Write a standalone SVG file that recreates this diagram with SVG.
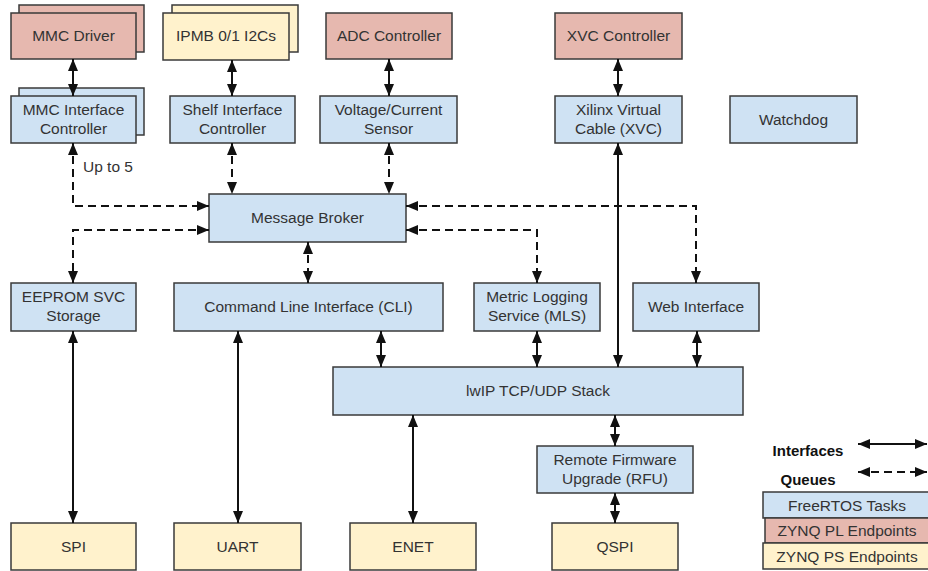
<svg xmlns="http://www.w3.org/2000/svg" width="928" height="571" viewBox="0 0 928 571">
<defs>
<style>
.n rect{stroke:#3a3a3a;stroke-width:1.5}
.b{fill:#cfe2f3}.r{fill:#e6b8af}.y{fill:#fff2cc}
text{font-family:"Liberation Sans",Arial,sans-serif;font-size:15.5px;fill:#333;text-anchor:middle}
.lg{font-weight:bold;fill:#111;font-size:15px}
.c path,.c line{fill:none;stroke:#111;stroke-width:2;marker-start:url(#a);marker-end:url(#a)}
.c .d{stroke-dasharray:8,5}
</style>
<marker id="a" viewBox="0 0 12 10" refX="12" refY="5" markerWidth="12" markerHeight="10" markerUnits="userSpaceOnUse" orient="auto-start-reverse"><path d="M0,0 L12,5 L0,10 z" fill="#111"/></marker>
</defs>
<rect width="928" height="571" fill="#fff"/>

<g class="n">
<g id="mmc-driver"><rect class="r" x="19" y="5" width="125" height="47"/><rect class="r" x="11" y="13" width="125" height="46"/><text x="73.5" y="41">MMC Driver</text></g>
<g id="ipmb"><rect class="y" x="172" y="5" width="126" height="47"/><rect class="y" x="163" y="13" width="126" height="47"/><text x="226" y="41">IPMB 0/1 I2Cs</text></g>
<g id="adc"><rect class="r" x="326" y="13" width="126" height="46"/><text x="389" y="41">ADC Controller</text></g>
<g id="xvc-ctrl"><rect class="r" x="555" y="13" width="127" height="46"/><text x="618.5" y="41">XVC Controller</text></g>

<g id="mmc-if"><rect class="b" x="19" y="88" width="125" height="47"/><rect class="b" x="11" y="96" width="125" height="47"/><text x="73.5" y="115">MMC Interface</text><text x="73.5" y="134">Controller</text></g>
<g id="shelf"><rect class="b" x="170" y="96" width="125" height="47"/><text x="232.5" y="115">Shelf Interface</text><text x="232.5" y="134">Controller</text></g>
<g id="vsense"><rect class="b" x="320" y="96" width="137" height="47"/><text x="388.5" y="115">Voltage/Current</text><text x="388.5" y="134">Sensor</text></g>
<g id="xvc"><rect class="b" x="555" y="96" width="127" height="47"/><text x="618.5" y="115">Xilinx Virtual</text><text x="618.5" y="134">Cable (XVC)</text></g>
<g id="watchdog"><rect class="b" x="730" y="96" width="127" height="47"/><text x="793.5" y="125">Watchdog</text></g>

<g id="broker"><rect class="b" x="209" y="194" width="197" height="48"/><text x="307.5" y="223">Message Broker</text></g>

<g id="eeprom"><rect class="b" x="11" y="283" width="125" height="48"/><text x="73.5" y="302">EEPROM SVC</text><text x="73.5" y="321">Storage</text></g>
<g id="cli"><rect class="b" x="174" y="283" width="269" height="48"/><text x="308.5" y="312">Command Line Interface (CLI)</text></g>
<g id="mls"><rect class="b" x="474" y="283" width="126" height="48"/><text x="537" y="302">Metric Logging</text><text x="537" y="321">Service (MLS)</text></g>
<g id="web"><rect class="b" x="633" y="283" width="126" height="48"/><text x="696" y="312">Web Interface</text></g>

<g id="lwip"><rect class="b" x="333" y="367" width="410" height="48"/><text x="538" y="396">lwIP TCP/UDP Stack</text></g>
<g id="rfu"><rect class="b" x="537" y="446" width="156" height="47"/><text x="615" y="465">Remote Firmware</text><text x="615" y="484">Upgrade (RFU)</text></g>

<g id="spi"><rect class="y" x="11" y="523" width="125" height="47"/><text x="73.5" y="552">SPI</text></g>
<g id="uart"><rect class="y" x="174" y="523" width="127" height="47"/><text x="237.5" y="552">UART</text></g>
<g id="enet"><rect class="y" x="350" y="523" width="126" height="47"/><text x="413" y="552">ENET</text></g>
<g id="qspi"><rect class="y" x="552" y="523" width="126" height="47"/><text x="615" y="552">QSPI</text></g>

<g id="legend">
<text class="lg" x="808" y="456">Interfaces</text>
<text class="lg" x="808" y="485">Queues</text>
<rect class="b" x="763" y="492" width="170" height="26"/><text x="847" y="511">FreeRTOS Tasks</text>
<rect class="r" x="765" y="518" width="170" height="25"/><text x="847" y="536">ZYNQ PL Endpoints</text>
<rect class="y" x="763" y="543" width="170" height="26"/><text x="847" y="562">ZYNQ PS Endpoints</text>
</g>
</g>

<g id="connectors" class="c">
<line x1="73" y1="59" x2="73" y2="96"/>
<line x1="232" y1="60" x2="232" y2="96"/>
<line x1="389" y1="59" x2="389" y2="96"/>
<line x1="618" y1="59" x2="618" y2="96"/>
<path class="d" d="M73,143 V206 H209"/>
<path class="d" d="M209,230 H73 V283"/>
<line class="d" x1="232" y1="143" x2="232" y2="194"/>
<line class="d" x1="389" y1="143" x2="389" y2="194"/>
<path class="d" d="M406,206 H696 V283"/>
<path class="d" d="M406,230 H537 V283"/>
<line class="d" x1="308" y1="242" x2="308" y2="283"/>
<line x1="618" y1="143" x2="618" y2="367"/>
<line x1="381" y1="331" x2="381" y2="367"/>
<line x1="537" y1="331" x2="537" y2="367"/>
<line x1="697" y1="331" x2="697" y2="367"/>
<line x1="615" y1="415" x2="615" y2="446"/>
<line x1="615" y1="493" x2="615" y2="523"/>
<line x1="73" y1="331" x2="73" y2="523"/>
<line x1="238" y1="331" x2="238" y2="523"/>
<line x1="413" y1="415" x2="413" y2="523"/>
<line x1="858" y1="444" x2="927" y2="444"/>
<line class="d" x1="858" y1="472" x2="927" y2="472"/>
</g>
<text x="108" y="172">Up to 5</text>
</svg>
